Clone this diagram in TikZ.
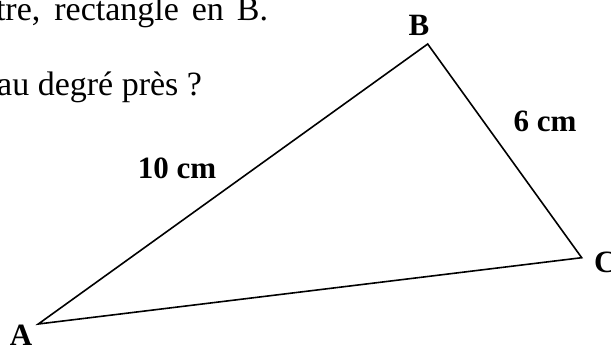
\documentclass[tikz,border=0pt]{standalone}
\usepackage{fontspec}
\setmainfont{Liberation Serif}
\usetikzlibrary{positioning}
\tikzset{
  every node/.style={inner sep=0pt, outer sep=0pt},
  bodytext/.style={font=\fontsize{34}{40}\selectfont, anchor=base west},
  vertexlabel/.style={font=\fontsize{31}{37}\selectfont\bfseries, anchor=base},
  sidelabel/.style={font=\fontsize{31}{37}\selectfont\bfseries, anchor=base},
  side/.style={line width=1.6pt, line join=miter}
}

\begin{document}
\begin{tikzpicture}[x=1pt, y=-1pt]

\useasboundingbox (0,0) rectangle (611,346);

% Question text (cut at the left edge)
\node[bodytext] (qline) at (-4,20) {\makebox[272pt][s]{tre, rectangle en B.}};
\node[bodytext, anchor=base east] (qask) at (202,95) {au degré près~?};

% Triangle ABC, right angle at B
\coordinate (A) at (38.3,324);
\coordinate (B) at (427.7,44);
\coordinate (C) at (581.7,257.7);
\draw[side] (A) -- (B) -- (C) -- cycle;

% Vertex names
\node[vertexlabel] (labA) at (21,345) {A};
\node[vertexlabel] (labB) at (419,35) {B};
\node[vertexlabel, anchor=base west] (labC) at (594,272) {C};

% Side lengths
\node[sidelabel] (lenAB) at (177,178) {10 cm};
\node[sidelabel] (lenBC) at (545,131) {6 cm};

\end{tikzpicture}
\end{document}
